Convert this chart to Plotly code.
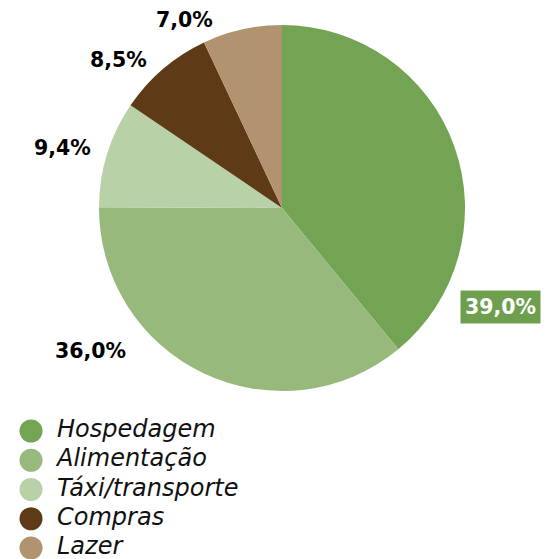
import plotly.graph_objects as go

categories = ["Hospedagem", "Alimentação", "Táxi/transporte", "Compras", "Lazer"]
values = [39.0, 36.0, 9.4, 8.5, 7.0]
value_labels = ["39,0%", "36,0%", "9,4%", "8,5%", "7,0%"]
colors = ["#72a453", "#98b97c", "#b9d1a7", "#5e3a17", "#b29370"]

W, H = 546, 559
cx, cy, r = 282, 208, 183

fig = go.Figure()
fig.add_trace(go.Pie(
    labels=categories, values=values, sort=False, direction="clockwise", rotation=0,
    marker=dict(colors=colors, line=dict(width=0)), textinfo="none", hoverinfo="label+percent",
    showlegend=False,
    domain=dict(x=[(cx - r) / W, (cx + r) / W], y=[1 - (cy + r) / H, 1 - (cy - r) / H]),
))

# legend drawn as scatter on hidden axes
idx = list(range(len(categories)))
fig.add_trace(go.Scatter(
    x=[0] * len(categories), y=idx, mode="markers",
    marker=dict(size=23, color=colors, symbol="circle"),
    showlegend=False, hoverinfo="skip",
))
fig.add_trace(go.Scatter(
    x=[26] * len(categories), y=idx, mode="text", text=categories,
    textposition="middle right",
    textfont=dict(family="DejaVu Sans", size=24, color="#111111", style="italic"),
    showlegend=False, hoverinfo="skip",
))

# label positions (pixel centres)
label_pos = [(500, 307), (90, 351), (62, 148), (118, 60), (184, 20)]
for i, (lab, (px, py)) in enumerate(zip(value_labels, label_pos)):
    common = dict(x=px / W, y=1 - py / H, xref="paper", yref="paper", text=lab,
                  showarrow=False, xanchor="center", yanchor="middle")
    if i == 0:
        fig.add_annotation(**common, bgcolor="#6e9f4f", borderpad=4,
                           font=dict(family="DejaVu Sans", size=20.5, color="white", weight="bold"))
    else:
        fig.add_annotation(**common,
                           font=dict(family="DejaVu Sans", size=20.5, color="black", weight="bold"))

item_gap = 29.25
y0 = 431
fig.update_layout(
    width=W, height=H, margin=dict(l=0, r=0, t=0, b=0),
    paper_bgcolor="white", plot_bgcolor="rgba(0,0,0,0)",
    xaxis=dict(range=[-31, W - 31], visible=False, fixedrange=True),
    yaxis=dict(range=[(H - y0) / item_gap, -y0 / item_gap], visible=False, fixedrange=True),
)

fig.write_html("out.html")
